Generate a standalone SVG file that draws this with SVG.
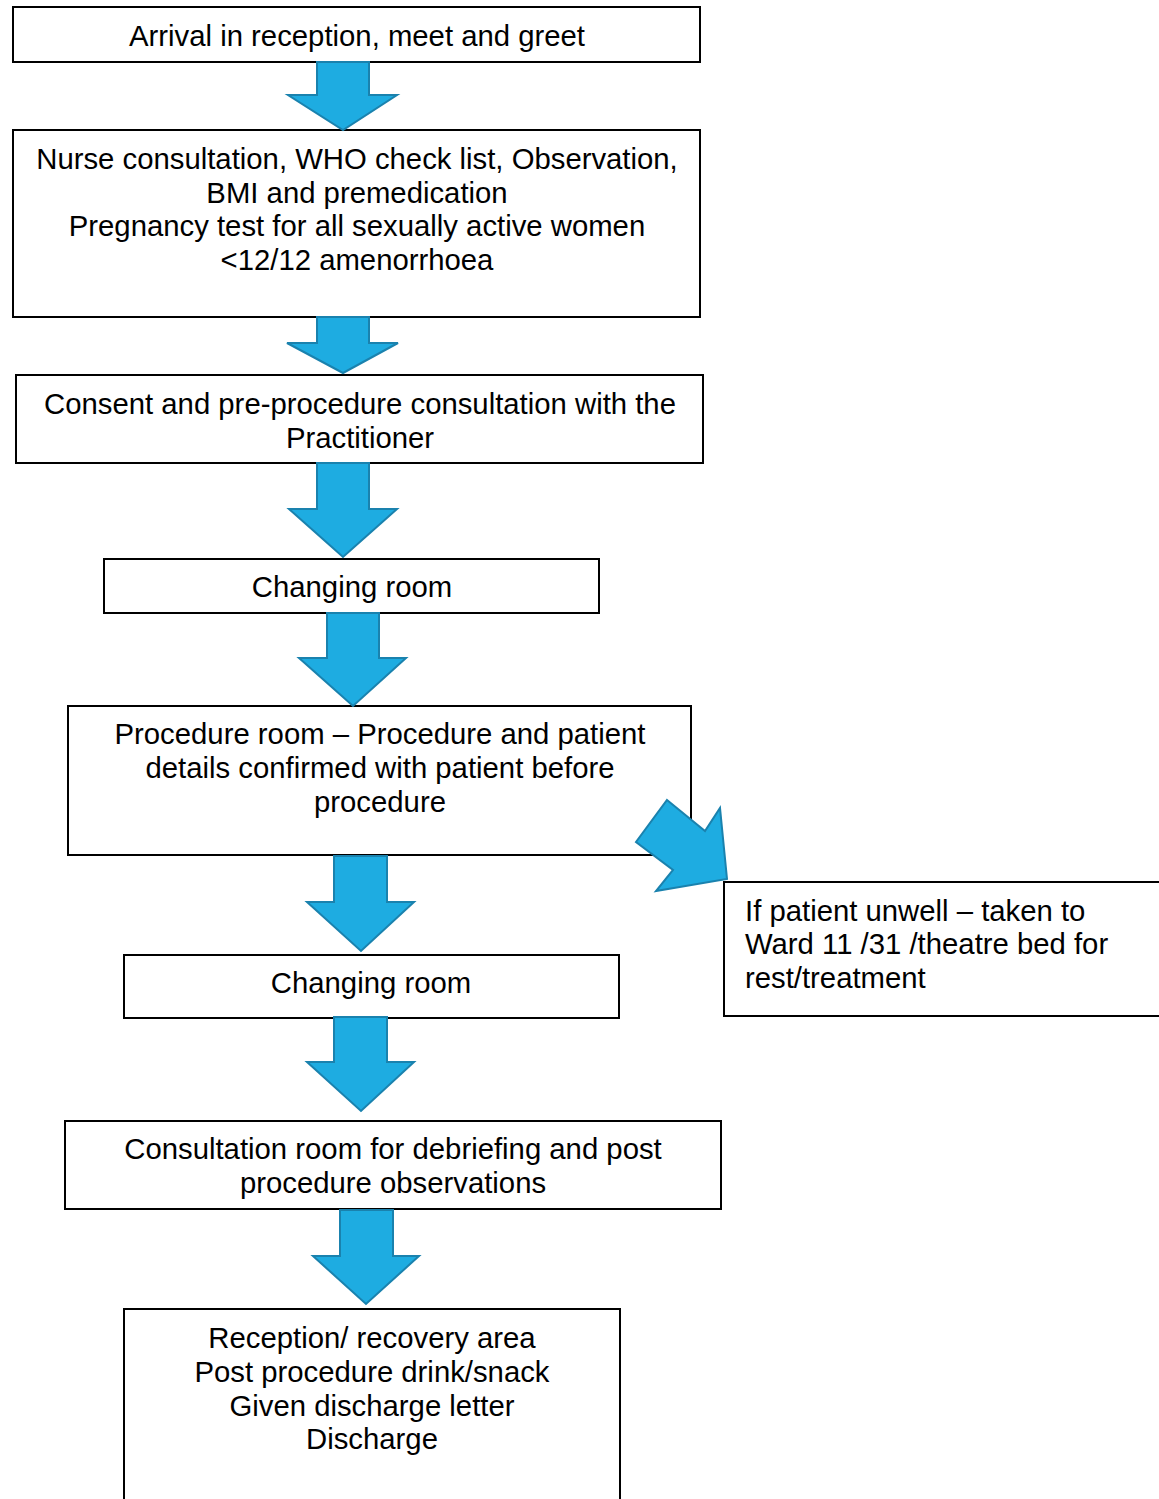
<svg xmlns="http://www.w3.org/2000/svg" width="1159" height="1499" viewBox="0 0 1159 1499">
<style>
.box{fill:#fff;stroke:#000;stroke-width:2}
.t{font-family:"Liberation Sans",Arial,sans-serif;font-size:29.3px;fill:#000;text-anchor:middle}
.tl{font-family:"Liberation Sans",Arial,sans-serif;font-size:29.3px;fill:#000}
.arr{fill:#1EACE1;stroke:#1A82AE;stroke-width:2;stroke-linejoin:miter}
</style>
<rect width="1159" height="1499" fill="#fff"/>
<g id="n1"><rect class="box" x="13" y="7" width="687" height="55"/>
<text class="t" x="357" y="46">Arrival in reception, meet and greet</text></g>
<g id="n2"><rect class="box" x="13" y="130" width="687" height="187"/>
<text class="t" x="357" y="169">Nurse consultation, WHO check list, Observation,</text>
<text class="t" x="357" y="203">BMI and premedication</text>
<text class="t" x="357" y="236">Pregnancy test for all sexually active women</text>
<text class="t" x="357" y="270">&lt;12/12 amenorrhoea</text></g>
<g id="n3"><rect class="box" x="16" y="375" width="687" height="88"/>
<text class="t" x="360" y="414">Consent and pre-procedure consultation with the</text>
<text class="t" x="360" y="448">Practitioner</text></g>
<g id="n4"><rect class="box" x="104" y="559" width="495" height="54"/>
<text class="t" x="352" y="597">Changing room</text></g>
<g id="n5"><rect class="box" x="68" y="706" width="623" height="149"/>
<text class="t" x="380" y="744">Procedure room – Procedure and patient</text>
<text class="t" x="380" y="778">details confirmed with patient before</text>
<text class="t" x="380" y="812">procedure</text></g>
<g id="n6"><rect class="box" x="724" y="882" width="445" height="134"/>
<text class="tl" x="745" y="921">If patient unwell – taken to</text>
<text class="tl" x="745" y="954">Ward 11 /31 /theatre bed for</text>
<text class="tl" x="745" y="988">rest/treatment</text></g>
<g id="n7"><rect class="box" x="124" y="955" width="495" height="63"/>
<text class="t" x="371" y="993">Changing room</text></g>
<g id="n8"><rect class="box" x="65" y="1121" width="656" height="88"/>
<text class="t" x="393" y="1159">Consultation room for debriefing and post</text>
<text class="t" x="393" y="1193">procedure observations</text></g>
<g id="n9"><rect class="box" x="124" y="1309" width="496" height="200"/>
<text class="t" x="372" y="1348">Reception/ recovery area</text>
<text class="t" x="372" y="1382">Post procedure drink/snack</text>
<text class="t" x="372" y="1416">Given discharge letter</text>
<text class="t" x="372" y="1449">Discharge</text></g>
<g id="connectors">
<polygon class="arr" points="317,62 369,62 369,95 397,95 343,130 288,95 317,95"/>
<polygon class="arr" points="317,317 369,317 369,343 398,343 343,373 287,343 317,343"/>
<polygon class="arr" points="317,463 369,463 369,509 397,509 343,557 289,509 317,509"/>
<polygon class="arr" points="327,613 379,613 379,658 406,658 353,706 299,658 327,658"/>
<polygon class="arr" points="667,800 705,831 720,808 727,879 656,891 673,870 636,842"/>
<polygon class="arr" points="334,856 387,856 387,902 414,902 361,951 307,902 334,902"/>
<polygon class="arr" points="334,1017 387,1017 387,1062 414,1062 361,1111 307,1062 334,1062"/>
<polygon class="arr" points="340,1210 393,1210 393,1256 419,1256 366,1304 313,1256 340,1256"/>
</g>
</svg>
